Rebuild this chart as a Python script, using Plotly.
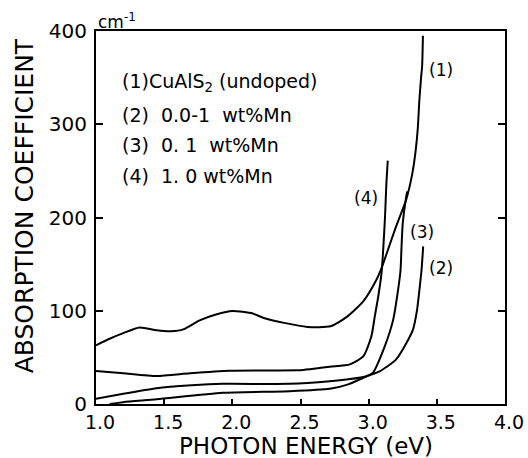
import plotly.graph_objects as go

# ---- data ----
c1_x = [1.0, 1.1, 1.2, 1.32, 1.445, 1.55, 1.64, 1.76, 1.88, 2.0, 2.15, 2.23, 2.38, 2.55, 2.72, 2.84,
        2.96, 3.056, 3.09, 3.20, 3.275, 3.32, 3.345, 3.36, 3.372, 3.385, 3.392, 3.398]
c1_y = [63, 70, 76, 82, 79, 78, 80, 89.7, 96, 99.8, 97, 92.3, 87, 82.7, 83.3, 93.4,
        110, 133, 144, 190, 219, 247, 272, 295, 326, 351, 362, 395]

c2_x = [1.10, 1.2, 1.445, 1.93, 2.42, 2.715, 2.85, 2.985, 3.08, 3.2, 3.29, 3.325, 3.355, 3.375, 3.388, 3.40]
c2_y = [0, 2, 5, 12, 13.7, 16.3, 21, 29.8, 35, 47.6, 69, 79.8, 101, 126, 144, 169]

c3_x = [1.0, 1.2, 1.445, 1.7, 1.93, 2.42, 2.715, 2.85, 2.985, 3.03, 3.118, 3.18, 3.216, 3.234, 3.24, 3.25, 3.275, 3.283]
c3_y = [5.5, 11, 17, 20, 21.6, 21.6, 24.4, 26.5, 29.8, 33.4, 61.9, 90.5, 122.6, 144, 165, 194, 222, 228]

c4_x = [1.0, 1.2, 1.445, 1.69, 1.98, 2.3, 2.52, 2.715, 2.862, 2.96, 3.02, 3.045, 3.07, 3.094, 3.12, 3.13, 3.14]
c4_y = [35.4, 33, 30, 33, 35.7, 36, 36.5, 40, 42.5, 51, 72.6, 94, 115, 140, 201, 237, 261]

x_ticks = [1.0, 1.5, 2.0, 2.5, 3.0, 3.5, 4.0]
x_tick_labels = ["1.0", "1.5", "2.0", "2.5", "3.0", "3.5", "4.0"]
y_ticks = [0, 100, 200, 300, 400]
y_tick_labels = ["0", "100", "200", "300", "400"]

legend_lines = ["(1)CuAlS<sub>2</sub>\u00a0(undoped)",
                "(2)\u00a0 0.0-1\u00a0 wt%Mn",
                "(3)\u00a0 0.\u00a01\u00a0 wt%Mn",
                "(4)\u00a0 1.\u00a00\u00a0wt%Mn"]
legend_y = [345, 310, 278, 244]

FONT = "DejaVu Sans"

fig = go.Figure()
for xs, ys in [(c1_x, c1_y), (c2_x, c2_y), (c3_x, c3_y), (c4_x, c4_y)]:
    fig.add_trace(go.Scatter(x=xs, y=ys, mode="lines",
                             line=dict(color="black", width=2, shape="spline", smoothing=0.6),
                             showlegend=False, hoverinfo="skip"))

annotations = []
for txt, yy in zip(legend_lines, legend_y):
    annotations.append(dict(x=1.176, y=yy, xref="x", yref="y", text=txt, showarrow=False,
                            xanchor="left", yanchor="middle",
                            font=dict(family=FONT, size=19, color="black")))

curve_labels = [("(1)", 3.427, 358, "left"), ("(2)", 3.427, 146, "left"),
                ("(3)", 3.287, 184.5, "left"), ("(4)", 3.082, 221, "right")]
for txt, xx, yy, anc in curve_labels:
    annotations.append(dict(x=xx, y=yy, xref="x", yref="y", text=txt, showarrow=False,
                            xanchor=anc, yanchor="middle",
                            font=dict(family=FONT, size=17, color="black")))

annotations.append(dict(x=0.0, y=1.027, xref="paper", yref="paper", text="cm<sup>-1</sup>",
                        showarrow=False, xanchor="left", yanchor="middle",
                        font=dict(family=FONT, size=17, color="black")))
annotations.append(dict(x=-0.176, y=0.53, xref="paper", yref="paper", text="ABSORPTION COEFFICIENT",
                        showarrow=False, xanchor="center", yanchor="middle", textangle=-90,
                        font=dict(family=FONT, size=25, color="black")))
annotations.append(dict(x=0.513, y=-0.112, xref="paper", yref="paper", text="PHOTON ENERGY (eV)",
                        showarrow=False, xanchor="center", yanchor="middle",
                        font=dict(family=FONT, size=23, color="black")))

fig.update_layout(
    width=528, height=458,
    margin=dict(l=96, r=23, t=31, b=54, autoexpand=False),
    paper_bgcolor="white", plot_bgcolor="white",
    annotations=annotations,
    xaxis=dict(range=[1.0, 4.0], tickvals=x_ticks, ticktext=x_tick_labels,
               ticks="inside", ticklen=5, tickwidth=2, tickcolor="black",
               showline=True, linecolor="black", linewidth=2, mirror=True,
               showgrid=False, zeroline=False, ticklabelshift=4, automargin=False,
               tickfont=dict(family=FONT, size=19, color="black")),
    yaxis=dict(range=[0, 400], tickvals=y_ticks, ticktext=y_tick_labels,
               ticks="inside", ticklen=7, tickwidth=2, tickcolor="black",
               showline=True, linecolor="black", linewidth=2, mirror="ticks",
               showgrid=False, zeroline=False, ticklabelstandoff=3, automargin=False,
               tickfont=dict(family=FONT, size=20, color="black")),
)

fig.write_html("out.html")
